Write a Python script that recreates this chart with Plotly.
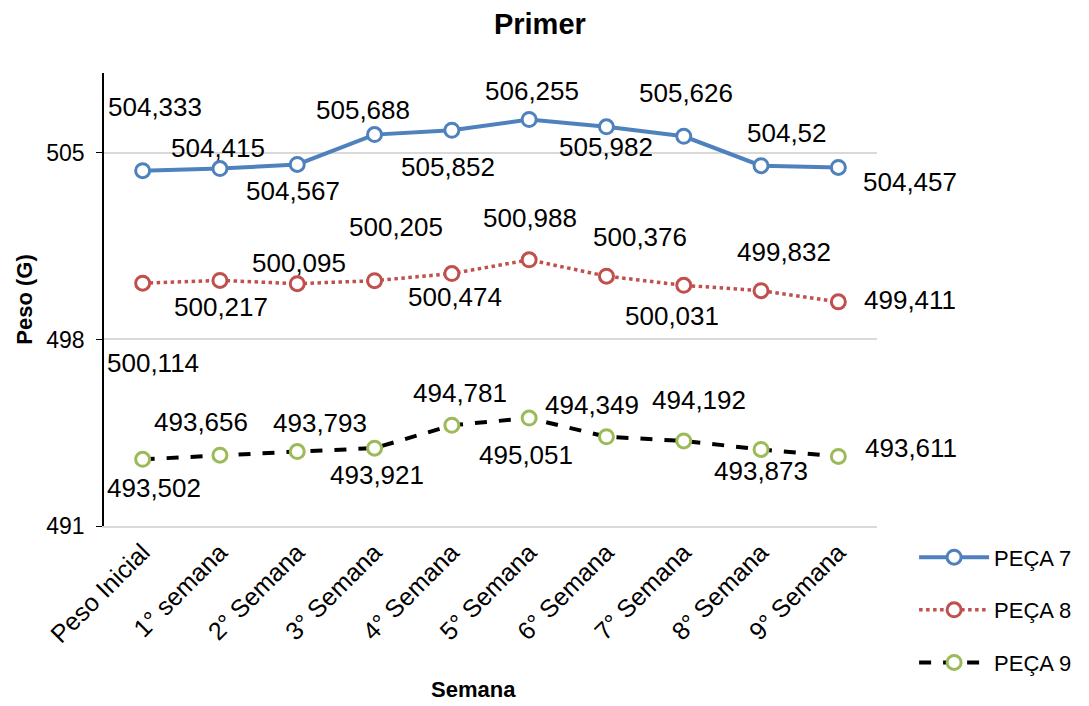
import plotly.graph_objects as go

categories = ["Peso Inicial", "1° semana", "2° Semana", "3° Semana", "4° Semana",
              "5° Semana", "6° Semana", "7° Semana", "8° Semana", "9° Semana"]
peca7 = [504.333, 504.415, 504.567, 505.688, 505.852, 506.255, 505.982, 505.626, 504.52, 504.457]
peca8 = [500.114, 500.217, 500.095, 500.205, 500.474, 500.988, 500.376, 500.031, 499.832, 499.411]
peca9 = [493.502, 493.656, 493.793, 493.921, 494.781, 495.051, 494.349, 494.192, 493.873, 493.611]
y_ticks = [491, 498, 505]

# label pixel offsets (xshift, yshift) to mimic the reference's hand-placed labels
off7 = [(12, 64), (-2, 21), (-4, -27), (-12, 25), (-4, -37), (3, 29), (0, -20), (2, 43), (26, 33), (72, -15)]
off8 = [(10, -80), (1, -27), (2, 21), (21, 54), (3, -23), (1, 42), (34, 39), (-12, -31), (23, 39), (72, 2)]
off9 = [(11, -29), (-19, 33), (23, 29), (2, -27), (8, 32), (-3, -37), (-14, 32), (15, 41), (0, -22), (73, 8)]

FONT = "Liberation Sans, Arial, sans-serif"

def fmt(v):
    return f"{v:g}".replace(".", ",")

fig = go.Figure()
series = [
    ("PEÇA 7", peca7, dict(color="#4F81BD", width=4, dash="solid"), "#4F81BD"),
    ("PEÇA 8", peca8, dict(color="#C0504D", width=3.5, dash="dot"), "#C0504D"),
    ("PEÇA 9", peca9, dict(color="#000000", width=4, dash="dash"), "#9BBB59"),
]
for i, (name, vals, line, mcol) in enumerate(series):
    fig.add_trace(go.Scatter(
        x=categories, y=vals, name=name, mode="lines+markers",
        line=line, legendgroup=name,
        marker=dict(symbol="circle", size=14, color="white", line=dict(color=mcol, width=3)),
    ))

annotations = []
for vals, offs in [(peca7, off7), (peca8, off8), (peca9, off9)]:
    for c, v, (dx, dy) in zip(categories, vals, offs):
        annotations.append(dict(
            x=c, y=v, xref="x", yref="y", text=fmt(v), showarrow=False,
            xanchor="center", yanchor="middle", xshift=dx, yshift=dy,
            font=dict(family=FONT, size=26, color="#000000"),
        ))
# x-axis title
annotations.append(dict(
    x=0.478, y=-0.361, xref="paper", yref="paper", text="<b>Semana</b>", showarrow=False,
    xanchor="center", yanchor="middle", font=dict(family=FONT, size=22, color="#000000"),
))

fig.update_layout(
    width=1081, height=698,
    paper_bgcolor="white", plot_bgcolor="white",
    margin=dict(l=96, r=212, t=65, b=180),
    font=dict(family=FONT, color="#000000"),
    title=dict(text="<b>Primer</b>", x=0.492, xanchor="center", y=0.978, yanchor="middle",
               font=dict(family=FONT, size=29, color="#000000")),
    showlegend=True,
    legend=dict(x=1.048, xanchor="left", y=-0.023, yanchor="top",
                font=dict(family=FONT, size=22, color="#000000"),
                tracegroupgap=21, traceorder="grouped", itemwidth=70,
                bgcolor="rgba(0,0,0,0)"),
    annotations=annotations,
)
fig.update_xaxes(
    type="category", tickangle=-45, showgrid=False,
    showline=True, linecolor="#D9D9D9", linewidth=1.5,
    ticks="", tickfont=dict(family=FONT, size=25, color="#000000"),
    range=[-0.5, 9.5],
)
fig.update_yaxes(
    range=[491, 508], tickvals=y_ticks, ticktext=[str(t) for t in y_ticks],
    showgrid=True, gridcolor="#D9D9D9", gridwidth=1.5,
    showline=True, linecolor="#000000", linewidth=1.5,
    ticks="outside", ticklen=6, tickcolor="#000000", ticklabelstandoff=7,
    tickfont=dict(family=FONT, size=23, color="#000000"),
    title=dict(text="<b>Peso (G)</b>", font=dict(family=FONT, size=22, color="#000000"), standoff=8),
    zeroline=False,
)
fig.write_html("out.html")
